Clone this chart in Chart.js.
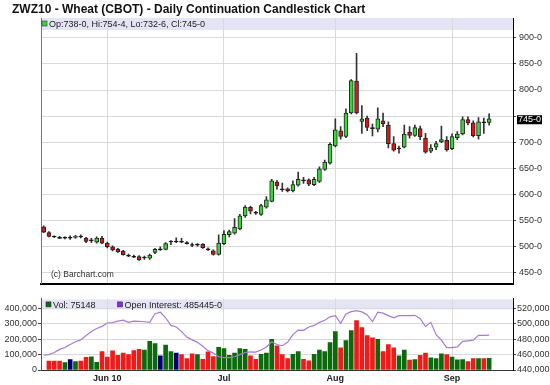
<!DOCTYPE html>
<html>
<head>
<meta charset="utf-8">
<script src="https://cdn.jsdelivr.net/npm/chart.js@4.4.0/dist/chart.umd.min.js"></script>
<style>
  body { margin: 0; background: #fff; }
  #wrap { position: relative; width: 550px; height: 385px; }
  canvas { position: absolute; left: 0; }
</style>
</head>
<body>
<div id="wrap">
  <canvas id="priceChart" width="550" height="292" style="top:0"></canvas>
  <canvas id="volChart" width="550" height="93" style="top:292px"></canvas>
</div>
<script>
// daily bars, May 13 - Sep 13 (index = trading day)
const opens = [538,527,519.5,518,517,517.5,518,520,516.5,512,
  509,516.5,507,500,495.5,491.5,483.5,481.5,481,479,
  478,489,495.5,495,509,511,510.5,508,504.5,503.5,
  504.5,495.5,492,485.5,506,523,526,534,559,575.5,
  565.5,562,576,587,624,610.5,611,607,618,627.5,
  628,619,625,648,660,693,722,711,756,817,
  740,746.5,727.5,725,741,733,697.5,687.5,690.5,719,
  713,726,708,683,690.5,700.5,703.5,687.5,709,716,
  743.5,737,712.5,738.5,738];
const highs = [540,529,521,520,519,521,522,523,518,516,
  519,520,509,502,497,493,486,484,483,482,
  486,497,500,508,512,517,516,510,507,506,
  506,498,494,523,531,532,554,562,579,578,
  568,581,596,629,627,622,613,626,643,633,
  630,633,653,666,699,745,730,764,820,870,
  770,750,735,766,756,739,711,692.5,733,730,
  733,731,717,695.5,702,731,711,716,720.5,748.5,
  748.5,741,747,746.5,754.5];
const lows = [527,519,517.5,516,515,514,516,517,508,508,
  507,506,498,492,489,484,481,479,474,476,
  476,487,493,494,504,508,508,505,500,501,
  497,493,484,484,504,519,524,532,556,563,
  562,560,574,586,610,606,605,605,616,621,
  617,617,623,646,658,691,706,709,754,754,
  717,722,712,720,730,689,683,679,689,708,
  711,705,679,680,686,699,683,686,705,714,
  733,710,706,717,732.75];
const closes = [528,520,519.5,517,517.5,517.5,520,519.5,510,512.5,
  516.5,507,500,494,490,485,483,481,475,479.5,
  484,495,495,506,510,510,509.5,507,503.5,504,
  498.5,495,485.5,507,524,529,537,559,576,568,
  565,579,590,626,616.5,610,607,619,629,627,
  620,629,649,662,696,724,711,756,818,756,
  745,728.5,727,745,735,697.5,685,688,715.5,713,
  728,710,681,689,697.5,705,686,711,715.5,743.5,
  737,712.5,739,738,745];
const volume = [null,58000,58000,58000,48000,68000,54000,58000,82000,86000,
  50000,120000,84000,124000,96000,110000,100000,126000,134000,130000,
  186000,172000,92000,162000,120000,110000,100000,74000,106000,100000,
  70000,118000,88000,148000,140000,96000,110000,140000,134000,92000,
  70000,102000,110000,200000,158000,100000,74000,102000,120000,70000,
  60000,102000,130000,120000,178000,250000,144000,192000,256000,322000,
  276000,224000,210000,200000,120000,166000,144000,92000,130000,64000,
  68000,96000,110000,80000,74000,106000,100000,84000,66000,68000,
  54000,74000,74000,74000,75148];
const openInterest = [459200,460000,462800,466800,469200,473200,476800,479200,484800,490000,
  494000,496800,501200,501600,503600,504800,502000,503600,503200,502800,
  502000,513200,515200,508000,498000,496000,490000,482800,479200,476000,
  470800,465200,462000,457200,456000,456000,457200,460000,462800,463600,
  463200,466000,470000,476800,473200,471600,476000,486000,492000,491600,
  496000,498000,502000,504800,509200,510800,500800,512800,516000,517200,
  515600,512000,502800,515200,514000,510800,508000,510800,510800,510800,
  511200,506800,496800,502000,486000,478800,469200,469200,470000,477200,
  478000,478800,485200,485200,485445];

// month marks on the time axis (trading day index of first session)
const monthIdx = [12, 34, 55, 77];
const monthLabels = ['Jun 10', 'Jul', 'Aug', 'Sep'];
const priceTicks = [450, 500, 550, 600, 650, 700, 750, 800, 850, 900];
const volTicks = [0, 100000, 200000, 300000, 400000];
const oiTicks = [440000, 460000, 480000, 500000, 520000];

const FONT = '"Liberation Sans", Arial, sans-serif';
Chart.defaults.font.family = FONT;
Chart.defaults.font.size = 9;
Chart.defaults.color = '#222';

const GRID = '#dadada';
const UP = '#3bd43b', DOWN = '#d81818';
const last = closes.length - 1;
const fmtPrice = p => Math.floor(p) + '-' + Math.round((p - Math.floor(p)) * 8);
const xMin = -0.5, xMax = 88.5;

// candle pieces
const wicks = highs.map((h, i) => ({ x: i, y: [lows[i], h] }));
const bodies = opens.map((o, i) => {
  const c = closes[i];
  if (Math.abs(c - o) <= 1) return { x: i, y: [c - 0.9, c + 0.9] };
  return { x: i, y: [Math.min(o, c), Math.max(o, c)] };
});
const bodyColors = opens.map((o, i) => {
  const c = closes[i];
  if (Math.abs(c - o) <= 1) return '#111';
  return c > o ? UP : DOWN;
});

const volColors = closes.map((c, i) => {
  if (i === 0 || c === closes[i - 1]) return '#000070';
  return c > closes[i - 1] ? '#0b6a0b' : '#f01a1a';
});

function drawStrip(chart, items, h, startX, textY) {
  const { ctx, chartArea: a } = chart;
  ctx.save();
  ctx.font = '9px ' + FONT;
  ctx.textBaseline = 'alphabetic';
  let x = a.left + startX;
  items.forEach(it => {
    ctx.fillStyle = it.color;
    ctx.fillRect(x, textY - 6, 5, 5);
    ctx.strokeStyle = '#333';
    ctx.lineWidth = 0.6;
    ctx.strokeRect(x, textY - 6, 5, 5);
    ctx.fillStyle = '#222';
    ctx.fillText(it.text, x + 7, textY);
    x += 7 + ctx.measureText(it.text).width + 22;
  });
  ctx.restore();
}

const stripBg = {
  id: 'stripBg',
  beforeDraw(chart, args, opts) {
    const { ctx, chartArea: a } = chart;
    ctx.save();
    ctx.fillStyle = '#e4e4f4';
    ctx.fillRect(a.left, a.top + opts.off, a.right - a.left, opts.h);
    ctx.restore();
  }
};

const priceDecor = {
  id: 'priceDecor',
  afterDraw(chart) {
    const { ctx, chartArea: a } = chart;
    drawStrip(chart, [{
      color: UP,
      text: 'Op:' + fmtPrice(opens[last]) + ', Hi:' + fmtPrice(highs[last]) +
            ', Lo:' + fmtPrice(lows[last]) + ', Cl:' + fmtPrice(closes[last])
    }], 12, 1, a.top + 9);

    ctx.save();
    ctx.font = '8.5px ' + FONT;
    ctx.fillStyle = '#333';
    ctx.fillText('(c) Barchart.com', a.left + 10, a.bottom - 7);

    // last price marker on the axis
    const y = chart.scales.y.getPixelForValue(closes[last]) + 1;
    ctx.fillStyle = '#000';
    ctx.fillRect(a.right + 4, y - 4.5, 25, 9);
    ctx.fillStyle = '#fff';
    ctx.font = '9px ' + FONT;
    ctx.textBaseline = 'middle';
    ctx.fillText(fmtPrice(closes[last]), a.right + 5, y);
    ctx.restore();
  }
};

const volDecor = {
  id: 'volDecor',
  afterDraw(chart) {
    const a = chart.chartArea;
    drawStrip(chart, [
      { color: '#0b6a0b', text: 'Vol: ' + volume[last] },
      { color: '#8a2be2', text: 'Open Interest: ' + openInterest[last] + '-0' }
    ], 10, 5, a.top + 9.5);
  }
};

const priceChart = new Chart(document.getElementById('priceChart'), {
  type: 'bar',
  data: {
    datasets: [{
      label: 'body',
      data: bodies,
      yAxisID: 'y',
      backgroundColor: bodyColors,
      borderColor: '#222',
      borderWidth: 1,
      borderSkipped: false,
      barThickness: 4,
      grouped: false,
      order: 0
    }, {
      label: 'wick',
      data: wicks,
      yAxisID: 'y',
      backgroundColor: '#333',
      barThickness: 1,
      grouped: false,
      order: 1
    }]
  },
  options: {
    responsive: false,
    animation: false,
    events: [],
    layout: { padding: { left: 12, right: 0, top: 0, bottom: 0 } },
    plugins: {
      legend: { display: false },
      tooltip: { enabled: false },
      title: {
        display: true,
        text: 'ZWZ10 - Wheat (CBOT) - Daily Continuation Candlestick Chart',
        align: 'start',
        color: '#111',
        font: { size: 12, weight: 'bold', lineHeight: 1 },
        padding: { top: 4, bottom: 2 }
      },
      stripBg: { off: 0, h: 12 }
    },
    scales: {
      x: {
        type: 'linear',
        min: xMin, max: xMax,
        offset: false,
        grid: { offset: false, color: GRID, drawTicks: false },
        ticks: { display: false },
        border: { color: '#000', width: 2 },
        afterBuildTicks: s => { s.ticks = monthIdx.map(v => ({ value: v })); },
        afterFit: s => { s.height = 1; }
      },
      yl: {
        position: 'left',
        grid: { display: false },
        ticks: { display: false },
        border: { color: '#777' },
        afterFit: s => { s.width = 29; }
      },
      y: {
        position: 'right',
        min: 429.5, max: 937.8,
        grid: { color: GRID, tickLength: 3, tickColor: '#444' },
        border: { color: '#000' },
        ticks: {
          padding: 3,
          color: '#333',
          callback: v => Math.abs(v - closes[last]) < 12 ? '' : v + '-0'
        },
        afterBuildTicks: s => { s.ticks = priceTicks.map(v => ({ value: v })); },
        afterFit: s => { s.width = 37; }
      }
    }
  },
  plugins: [stripBg, priceDecor]
});

const volChart = new Chart(document.getElementById('volChart'), {
  type: 'bar',
  data: {
    datasets: [{
      type: 'line',
      label: 'Open Interest',
      data: openInterest.map((v, i) => ({ x: i, y: v })),
      yAxisID: 'oi',
      borderColor: '#a77ad9',
      borderWidth: 1.2,
      pointRadius: 0,
      tension: 0,
      order: 0
    }, {
      label: 'Vol',
      data: volume.map((v, i) => ({ x: i, y: v })),
      yAxisID: 'vol',
      backgroundColor: volColors,
      barThickness: 4,
      order: 1
    }]
  },
  options: {
    responsive: false,
    animation: false,
    events: [],
    layout: { padding: 0 },
    plugins: {
      legend: { display: false },
      tooltip: { enabled: false },
      stripBg: { off: 1, h: 10 }
    },
    scales: {
      x: {
        type: 'linear',
        min: xMin, max: xMax,
        offset: false,
        grid: { offset: false, color: GRID, drawTicks: false },
        border: { color: '#333' },
        ticks: {
          padding: 3,
          color: '#222',
          font: { size: 9, weight: 'bold' },
          maxRotation: 0,
          callback: (v, i) => monthLabels[i]
        },
        afterBuildTicks: s => { s.ticks = monthIdx.map(v => ({ value: v })); },
        afterFit: s => { s.height = 15; }
      },
      vol: {
        position: 'left',
        min: 0, max: 466000,
        grid: { color: GRID, tickLength: 3, tickColor: '#444' },
        border: { color: '#555' },
        ticks: { padding: 1, color: '#333' },
        afterBuildTicks: s => { s.ticks = volTicks.map(v => ({ value: v })); },
        afterFit: s => { s.width = 41; }
      },
      oi: {
        position: 'right',
        min: 440000, max: 533200,
        grid: { drawOnChartArea: false, tickLength: 3, tickColor: '#444' },
        border: { color: '#000' },
        ticks: { padding: 1, color: '#333' },
        afterBuildTicks: s => { s.ticks = oiTicks.map(v => ({ value: v })); },
        afterFit: s => { s.width = 37; }
      }
    }
  },
  plugins: [stripBg, volDecor]
});
</script>
</body>
</html>
